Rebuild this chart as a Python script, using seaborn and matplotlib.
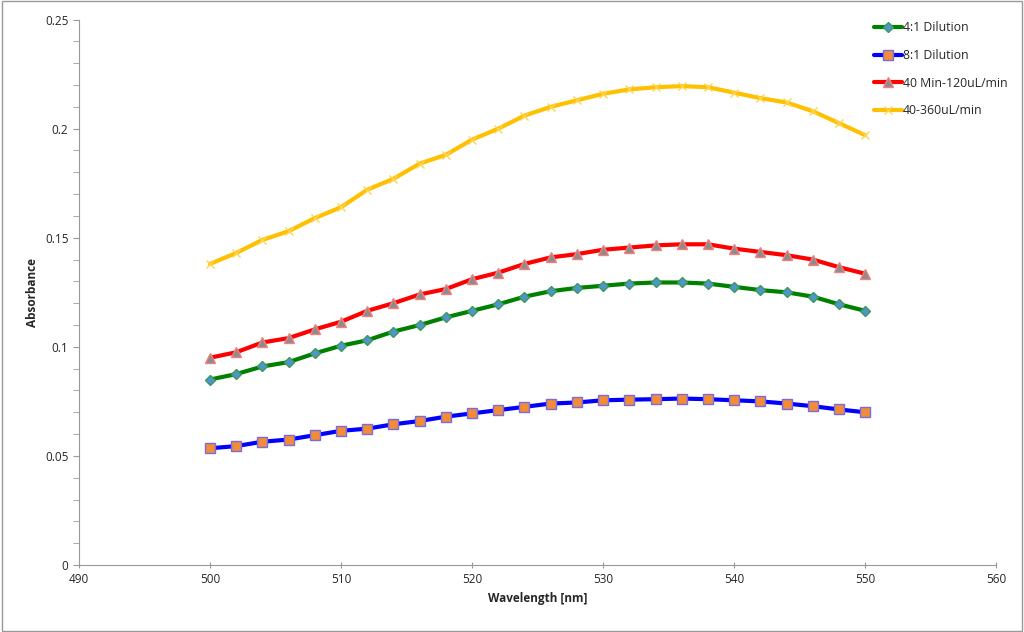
import numpy as np
import pandas as pd
import seaborn as sns
import matplotlib.pyplot as plt
from matplotlib.ticker import MultipleLocator

wavelength = list(range(500, 552, 2))

dil_4_1 = [0.085, 0.0875, 0.091, 0.093, 0.097, 0.1005, 0.103, 0.107, 0.110, 0.1135,
           0.1165, 0.1195, 0.123, 0.1255, 0.127, 0.128, 0.129, 0.1295, 0.1295, 0.129,
           0.1275, 0.126, 0.125, 0.123, 0.1195, 0.1165]
dil_8_1 = [0.0535, 0.0545, 0.0565, 0.0575, 0.0595, 0.0615, 0.0625, 0.0645, 0.066, 0.068,
           0.0695, 0.071, 0.0725, 0.074, 0.0745, 0.0755, 0.0758, 0.076, 0.0763, 0.076,
           0.0755, 0.075, 0.074, 0.0728, 0.0713, 0.070]
min40_120 = [0.095, 0.0975, 0.102, 0.104, 0.108, 0.1115, 0.1165, 0.120, 0.124, 0.1265,
             0.131, 0.134, 0.138, 0.141, 0.1425, 0.1445, 0.1455, 0.1465, 0.147, 0.147,
             0.145, 0.1435, 0.142, 0.140, 0.1365, 0.1335]
min40_360 = [0.138, 0.143, 0.149, 0.153, 0.159, 0.164, 0.172, 0.177, 0.184, 0.188,
             0.195, 0.200, 0.206, 0.210, 0.213, 0.216, 0.218, 0.219, 0.2195, 0.219,
             0.2165, 0.214, 0.212, 0.208, 0.2025, 0.197]

series_names = ["4:1 Dilution", "8:1 Dilution", "40 Min-120uL/min", "40-360uL/min"]
series_values = [dil_4_1, dil_8_1, min40_120, min40_360]

styles = {
    "4:1 Dilution": dict(color="#008000", marker="D", markersize=5.5,
                         markerfacecolor="#4F94CD", markeredgecolor="#3a9a5a"),
    "8:1 Dilution": dict(color="#0000FF", marker="s", markersize=6.5,
                         markerfacecolor="#F28C38", markeredgecolor="#7b6be0"),
    "40 Min-120uL/min": dict(color="#FF0000", marker="^", markersize=7,
                             markerfacecolor="#8C8C8C", markeredgecolor="#F08080"),
    "40-360uL/min": dict(color="#FFC000", marker="x", markersize=6,
                         markerfacecolor="#FFC000", markeredgecolor="#FFD54F"),
}

sns.set_style("white")
plt.rcParams['font.family'] = ['Open Sans', 'DejaVu Sans']

fig = plt.figure(figsize=(10.24, 6.32), dpi=100)
ax = fig.add_axes([0.077, 0.106, 0.896, 0.863])

for name, vals in zip(series_names, series_values):
    df = pd.DataFrame({"Wavelength": wavelength, "Absorbance": vals})
    sns.lineplot(data=df, x="Wavelength", y="Absorbance", ax=ax, label=name,
                 linewidth=3, markeredgewidth=1, **styles[name])

ax.set_xlim(490, 560)
ax.set_ylim(0, 0.25)
ax.set_xticks(range(490, 561, 10))
ax.set_yticks([0, 0.05, 0.1, 0.15, 0.2, 0.25])
ax.set_yticklabels(["0", "0.05", "0.1", "0.15", "0.2", "0.25"])
ax.yaxis.set_minor_locator(MultipleLocator(0.01))
ax.tick_params(axis="y", which="both", labelsize=8.5, length=4, direction="out",
               color="#999999", left=True)
ax.tick_params(axis="x", labelsize=8.5, length=5, direction="inout",
               color="#999999", bottom=True)
ax.set_xlabel("Wavelength [nm]", fontsize=8.5, fontweight="bold")
ax.set_ylabel("Absorbance", fontsize=8.5, fontweight="bold")
for side in ["top", "right"]:
    ax.spines[side].set_visible(False)
for side in ["left", "bottom"]:
    ax.spines[side].set_color("#999999")
    ax.spines[side].set_linewidth(0.8)

ax.legend(loc="upper left", bbox_to_anchor=(0.855, 1.017), frameon=False, fontsize=8.8,
          handlelength=2.25, handletextpad=0.1, labelspacing=1.2)

# outer border around the whole figure
fig.patches.append(plt.Rectangle((0.002, 0.002), 0.996, 0.996, transform=fig.transFigure,
                                 fill=False, edgecolor="#999999", linewidth=1))

fig.savefig("out.png", dpi=100)
